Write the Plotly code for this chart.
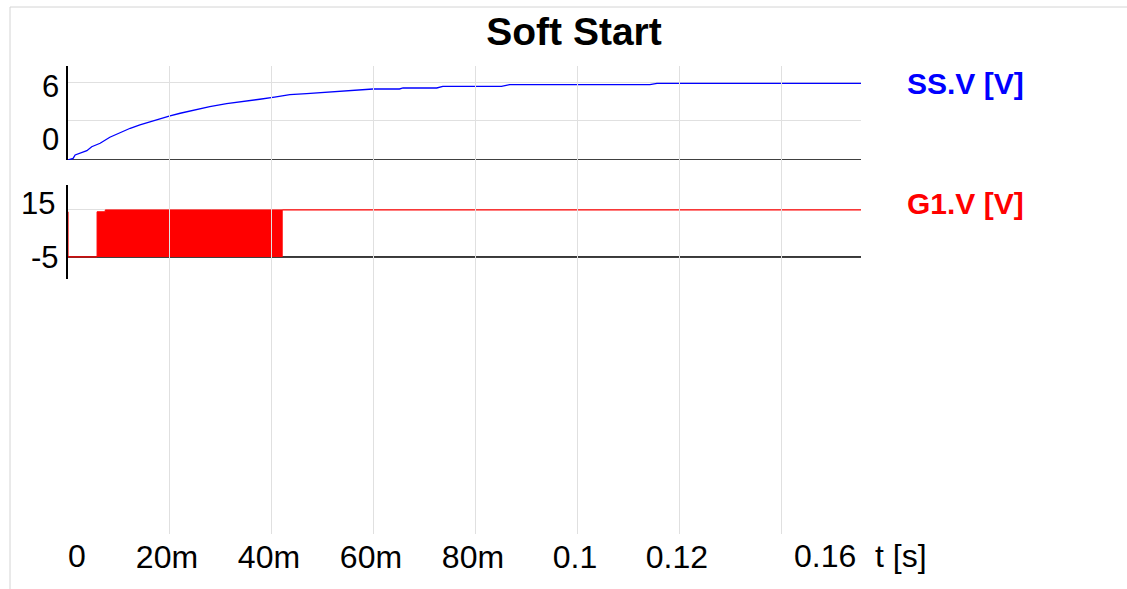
import plotly.graph_objects as go

# ---- data -----------------------------------------------------------------
# Soft-start capacitor voltage SS.V [V] versus time [s]
ss_time = [0.0, 0.0010, 0.0014, 0.00235, 0.0037, 0.00465, 0.0063, 0.0082,
           0.0102, 0.0122, 0.0141, 0.0161, 0.0180, 0.0200, 0.0220, 0.0246,
           0.0278, 0.0311, 0.0344, 0.0376, 0.0405, 0.0435, 0.0468, 0.0500,
           0.0539, 0.0586, 0.0598, 0.0650, 0.0657, 0.0723, 0.0735, 0.0850,
           0.0866, 0.1141, 0.1155, 0.1555]
ss_volt = [-6.16, -5.90, -5.37, -5.10, -4.69, -4.06, -3.52, -2.57,
           -1.85, -1.15, -0.63, -0.11, 0.32, 0.79, 1.22, 1.74,
           2.26, 2.73, 3.05, 3.43, 3.78, 4.15, 4.31, 4.47,
           4.74, 4.89, 5.05, 5.05, 5.21, 5.21, 5.47, 5.47,
           5.74, 5.74, 5.95, 5.95]

# Gate drive G1.V [V]: idle low, PWM burst, then held high
g1_pre_time = [0.0, 0.0, 0.0057]
g1_pre_volt = [14.2, -5.0, -5.0]
burst_time = [0.0057, 0.0057, 0.0073, 0.0073, 0.0420, 0.0420]
burst_volt = [-5.0, 14.2, 14.2, 15.0, 15.0, -5.0]
g1_post_time = [0.0420, 0.1555]
g1_post_volt = [15.0, 15.0]

t_end = 0.1555
x_tick_vals = [0.0, 0.02, 0.04, 0.06, 0.08, 0.10, 0.12, 0.14]
x_tick_text = ["", "20m", "40m", "60m", "80m", "0.1", "0.12", ""]
ss_grid = [0, 6]
g1_grid = [-5, 15]

# ---- layout geometry (pixels) --------------------------------------------
W_PX, H_PX = 1127, 589
L, R, T, B = 68, 861, 66, 534
PW, PH = R - L, B - T


def px(x):
    return (x - L) / PW


def py(y):
    return (B - y) / PH


FONT = "Liberation Sans, Arial, sans-serif"
GRID = "#e0e0e0"
BLUE = "#0000ff"
RED = "#ff0000"
CLEAR = "rgba(0,0,0,0)"

fig = go.Figure()

# anchor subplot spanning the full height so time gridlines run top to bottom
fig.add_trace(go.Scatter(x=[], y=[], xaxis="x", yaxis="y3", showlegend=False))

fig.add_trace(go.Scatter(x=ss_time, y=ss_volt, mode="lines", xaxis="x", yaxis="y",
                         line=dict(color=BLUE, width=1.3), showlegend=False,
                         hoverinfo="skip"))

fig.add_trace(go.Scatter(x=g1_pre_time, y=g1_pre_volt, mode="lines", xaxis="x",
                         yaxis="y2", line=dict(color=RED, width=1.2),
                         showlegend=False, hoverinfo="skip"))
fig.add_trace(go.Scatter(x=burst_time, y=burst_volt, mode="lines", xaxis="x",
                         yaxis="y2", fill="toself", fillcolor=RED,
                         line=dict(color=RED, width=1), showlegend=False,
                         hoverinfo="skip"))
fig.add_trace(go.Scatter(x=g1_post_time, y=g1_post_volt, mode="lines", xaxis="x",
                         yaxis="y2", line=dict(color=RED, width=1.2),
                         showlegend=False, hoverinfo="skip"))

shapes = [
    # baselines of the two panels
    dict(type="line", xref="x", yref="y", x0=0, x1=t_end, y0=ss_volt[0],
         y1=ss_volt[0], line=dict(color="black", width=1.5), layer="between"),
    dict(type="line", xref="x", yref="y2", x0=0, x1=t_end, y0=-5, y1=-5,
         line=dict(color="black", width=1.5), layer="between"),
    # outer frame
    dict(type="line", xref="paper", yref="paper", x0=px(10), x1=px(W_PX),
         y0=py(7), y1=py(7), line=dict(color="#d4d4d4", width=1)),
    dict(type="line", xref="paper", yref="paper", x0=px(10), x1=px(10),
         y0=py(7), y1=py(H_PX), line=dict(color="#d4d4d4", width=1)),
]

annotations = []


def label(text, x, y, xanchor, size, color="black"):
    annotations.append(dict(text=text, xref="paper", yref="paper", x=px(x),
                            y=py(y), xanchor=xanchor, yanchor="middle",
                            showarrow=False,
                            font=dict(family=FONT, size=size, color=color)))


# value labels of the two panels
label("6", 61, 86.5, "right", 31)
label("0", 61, 139.5, "right", 31)
label("15", 57, 204, "right", 31)
label("-5", 61, 257.5, "right", 31)

# time-axis end labels and unit
label("0", 66, 556, "left", 32)
label("0.16", 858, 556, "right", 32)
label("t [s]", 873, 556, "left", 32)

# signal names
label("<b>SS.V [V]</b>", 905, 84, "left", 30, BLUE)
label("<b>G1.V [V]</b>", 905, 204, "left", 30, RED)

fig.update_layout(
    width=W_PX, height=H_PX,
    margin=dict(l=L, r=W_PX - R, t=T, b=H_PX - B, pad=0),
    paper_bgcolor="white", plot_bgcolor=CLEAR,
    title=dict(text="<b>Soft Start</b>", x=574 / W_PX, xanchor="center",
               y=1 - 31 / H_PX, yanchor="middle", xref="container",
               yref="container",
               font=dict(family=FONT, size=39, color="black")),
    xaxis=dict(range=[0, t_end], anchor="y3", tickvals=x_tick_vals,
               ticktext=x_tick_text, showgrid=True, gridcolor=GRID,
               gridwidth=1, zeroline=False, showline=False, ticks="",
               ticklabelshift=-3, ticklabelstandoff=1,
               tickfont=dict(family=FONT, size=32, color="black")),
    yaxis=dict(domain=[py(160), py(66)], range=[ss_volt[0], 8.68],
               anchor="x", tickvals=ss_grid, showticklabels=False,
               showgrid=True, gridcolor=GRID, zeroline=False,
               showline=True, linecolor="black", linewidth=1.5, ticks=""),
    yaxis2=dict(domain=[py(279), py(185)], range=[-14.4, 25.6], anchor="x",
                tickvals=g1_grid, showticklabels=False, showgrid=True,
                gridcolor=GRID, zeroline=False, showline=True,
                linecolor="black", linewidth=1.5, ticks=""),
    yaxis3=dict(domain=[0, 1], range=[0, 1], anchor="x", visible=False,
                showgrid=False, zeroline=False),
    shapes=shapes,
    annotations=annotations,
    showlegend=False,
)

fig.write_html("out.html")
